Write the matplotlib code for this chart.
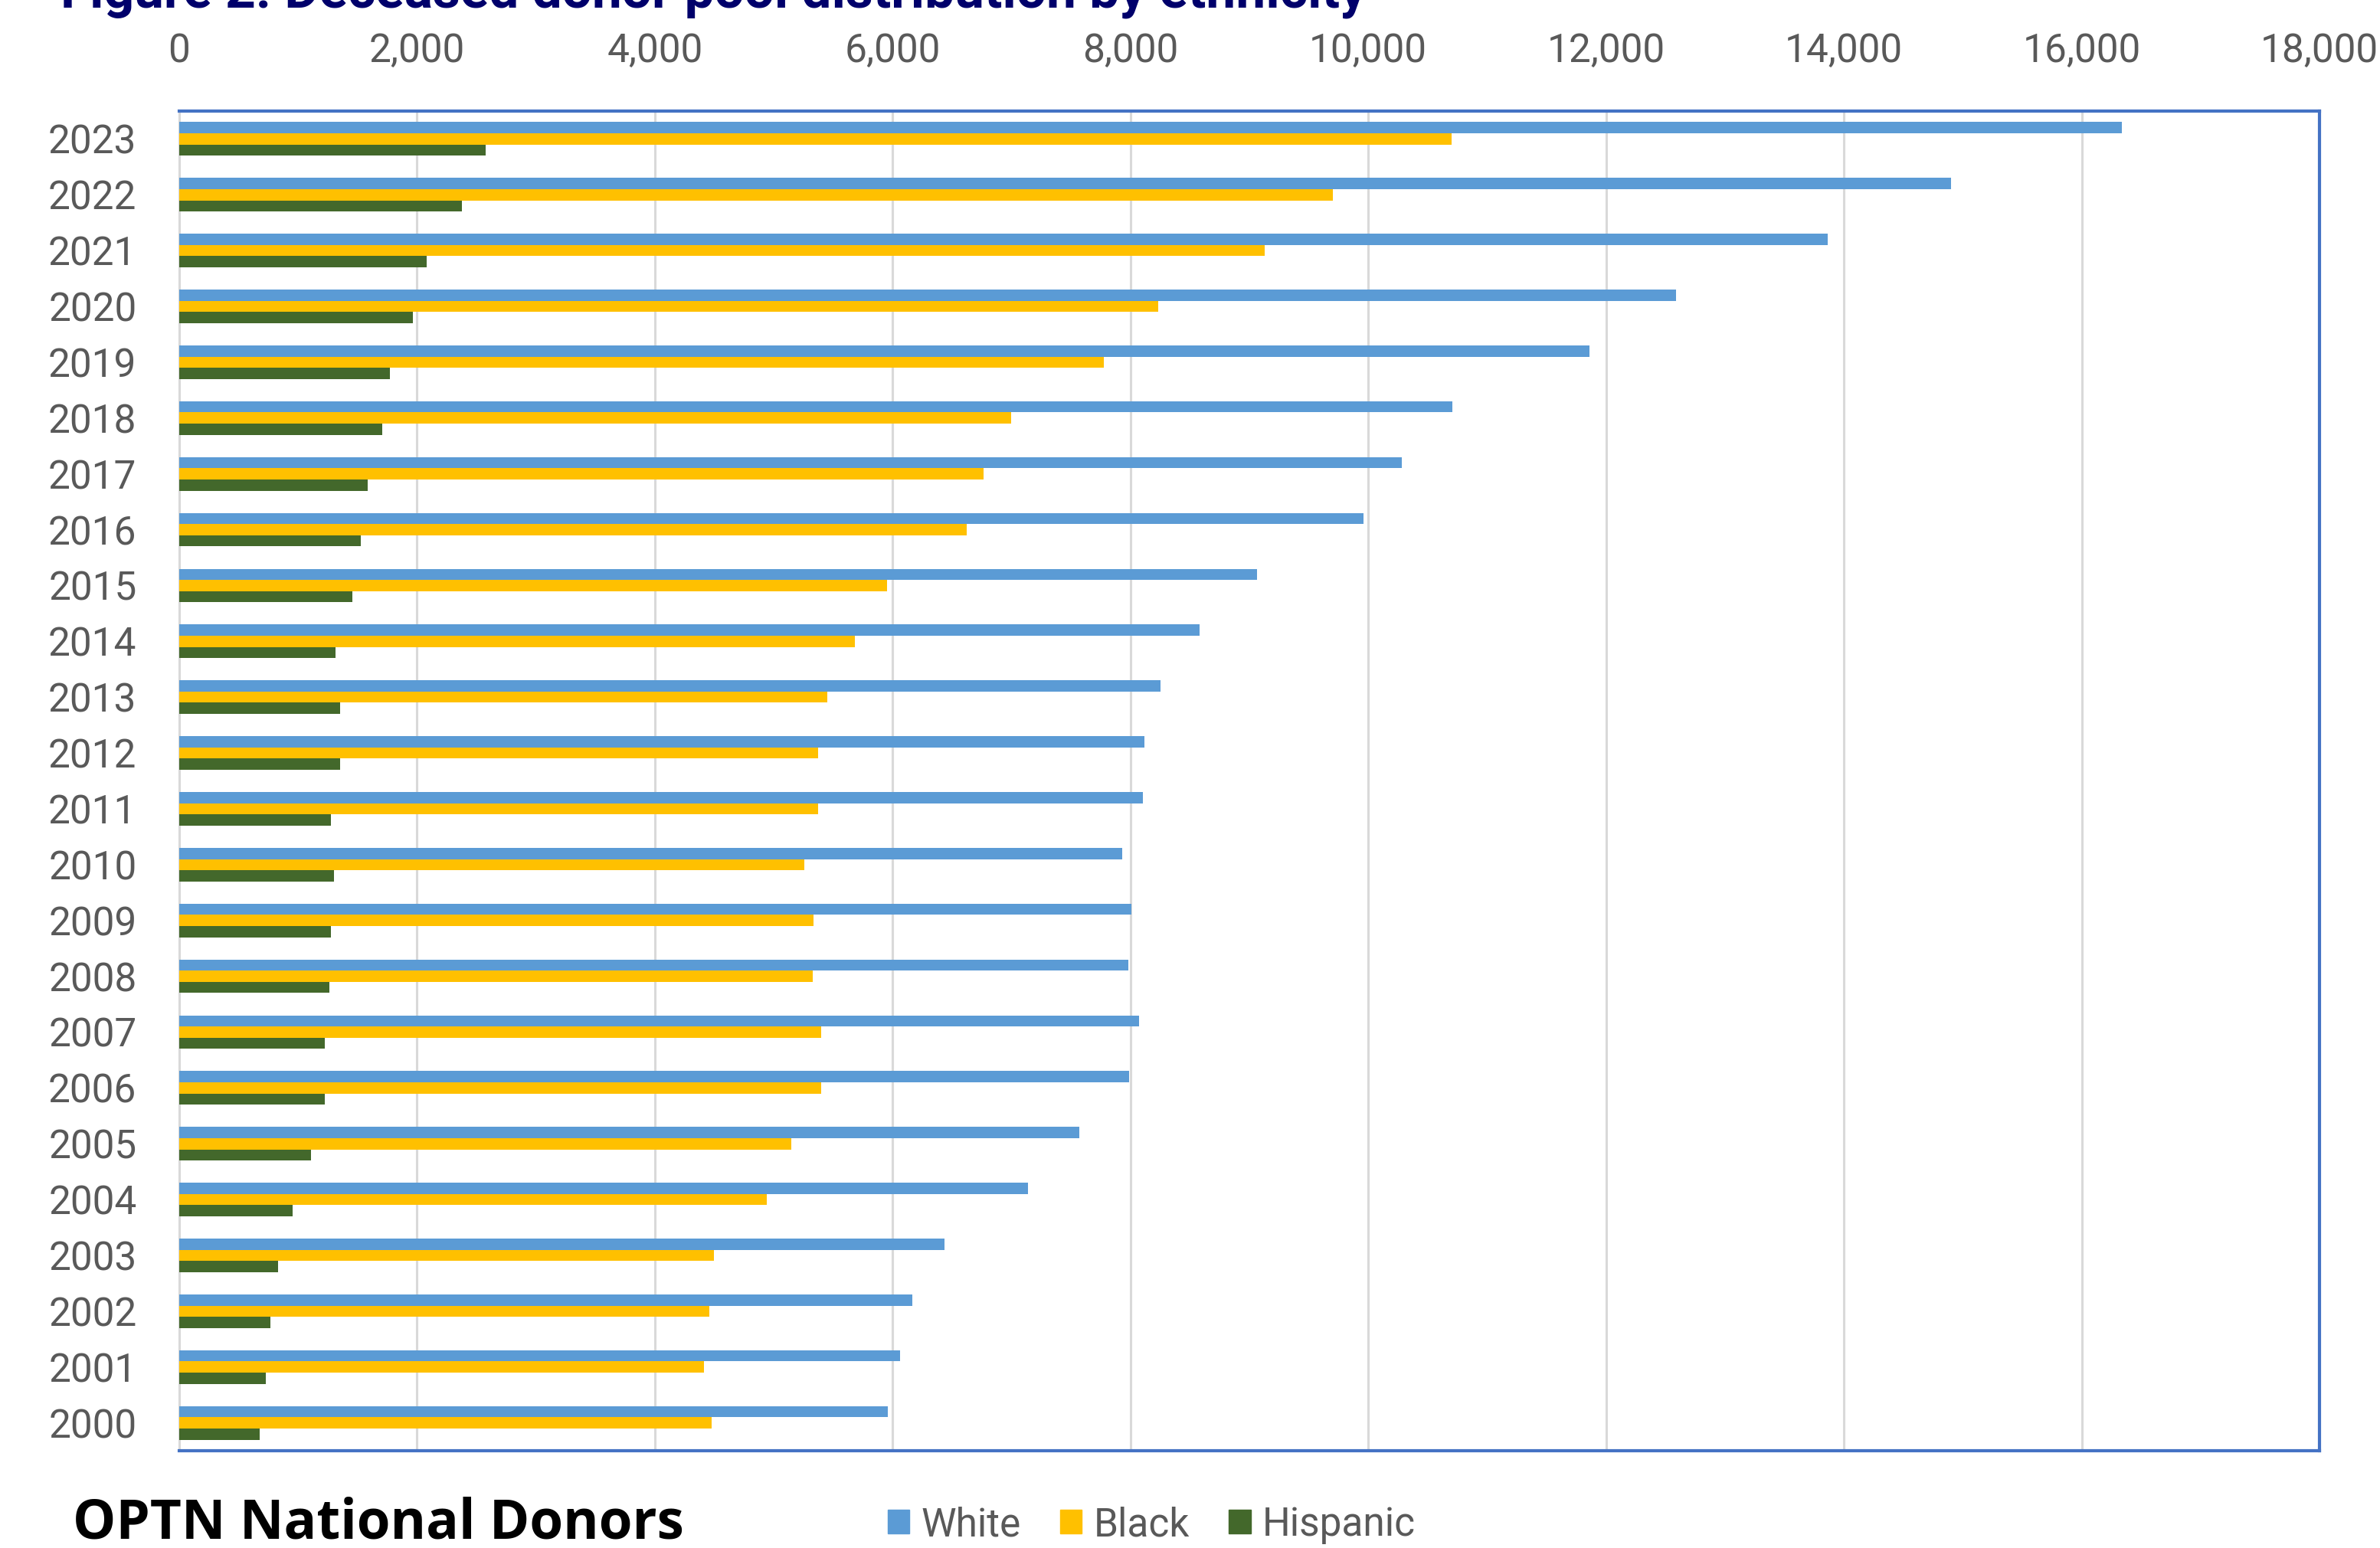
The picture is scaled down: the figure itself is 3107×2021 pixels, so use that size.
import matplotlib.pyplot as plt
import numpy as np
from matplotlib.patches import Patch
from matplotlib.ticker import FuncFormatter

years = [2000, 2001, 2002, 2003, 2004, 2005, 2006, 2007, 2008, 2009, 2010, 2011,
         2012, 2013, 2014, 2015, 2016, 2017, 2018, 2019, 2020, 2021, 2022, 2023]
white = [5960, 6065, 6165, 6435, 7135, 7570, 7990, 8070, 7980, 8005, 7930, 8105,
         8120, 8250, 8580, 9065, 9960, 10280, 10710, 11860, 12590, 13865, 14900, 16340]
black = [4480, 4415, 4455, 4495, 4940, 5145, 5400, 5400, 5325, 5335, 5260, 5375,
         5375, 5450, 5680, 5950, 6625, 6765, 6995, 7775, 8235, 9130, 9705, 10700]
hispanic = [675, 730, 765, 830, 955, 1110, 1225, 1225, 1265, 1275, 1300, 1275,
            1355, 1355, 1315, 1455, 1530, 1585, 1710, 1775, 1965, 2080, 2375, 2580]

c_white = '#5B9BD5'
c_black = '#FFC000'
c_hisp = '#43682B'
c_text = '#595959'
narrow = ['Roboto', 'DejaVu Sans']

fig = plt.figure(figsize=(31.07, 20.21), dpi=100)
ax = fig.add_axes([0.0753, 0.0628, 0.8993, 0.8655])

y = np.arange(len(years))
h = 0.2
ax.barh(y + h, white, height=h, color=c_white, zorder=3)
ax.barh(y, black, height=h, color=c_black, zorder=3)
ax.barh(y - h, hispanic, height=h, color=c_hisp, zorder=3)

ax.set_xlim(0, 18000)
ax.set_ylim(-0.5, len(years) - 0.5)
ax.set_xticks(np.arange(0, 18001, 2000))
ax.xaxis.set_major_formatter(FuncFormatter(lambda v, p: f'{int(v):,}'))
ax.set_yticks(y)
ax.set_yticklabels([str(v) for v in years])
ax.xaxis.tick_top()
ax.tick_params(axis='x', length=0, pad=38, labelsize=37, labelcolor=c_text)
ax.tick_params(axis='y', length=0, pad=40, labelsize=37, labelcolor=c_text)
for lab in ax.get_xticklabels() + ax.get_yticklabels():
    lab.set_family(narrow)

ax.grid(axis='x', color='#D9D9D9', linewidth=2.2, zorder=0)
ax.set_axisbelow(True)
for s in ['top', 'right', 'bottom']:
    ax.spines[s].set_color('#4472C4')
    ax.spines[s].set_linewidth(3)
ax.spines['left'].set_color('#D9D9D9')
ax.spines['left'].set_linewidth(2.2)

# title cut off at the top edge of the image
fig.text(0.0255, 1 - 10 / 2021, 'Figure 2. Deceased donor pool distribution by ethnicity',
         family=narrow, fontweight='bold', fontsize=50, color='#00006B',
         va='baseline', ha='left')

fig.text(0.0306, 0.0155, 'OPTN National Donors', family=['Open Sans', 'DejaVu Sans'],
         fontweight='bold', fontsize=51, color='black', va='center', ha='left')

handles = [Patch(color=c_white, label='White'),
           Patch(color=c_black, label='Black'),
           Patch(color=c_hisp, label='Hispanic')]
leg = fig.legend(handles=handles, loc='center left', bbox_to_anchor=(0.358, 0.0148),
                 ncol=3, frameon=False, handlelength=0.55, handleheight=0.55,
                 handletextpad=0.3, columnspacing=1.0,
                 prop={'family': narrow, 'size': 37})
for t in leg.get_texts():
    t.set_color(c_text)

fig.savefig('out.png', dpi=100)
